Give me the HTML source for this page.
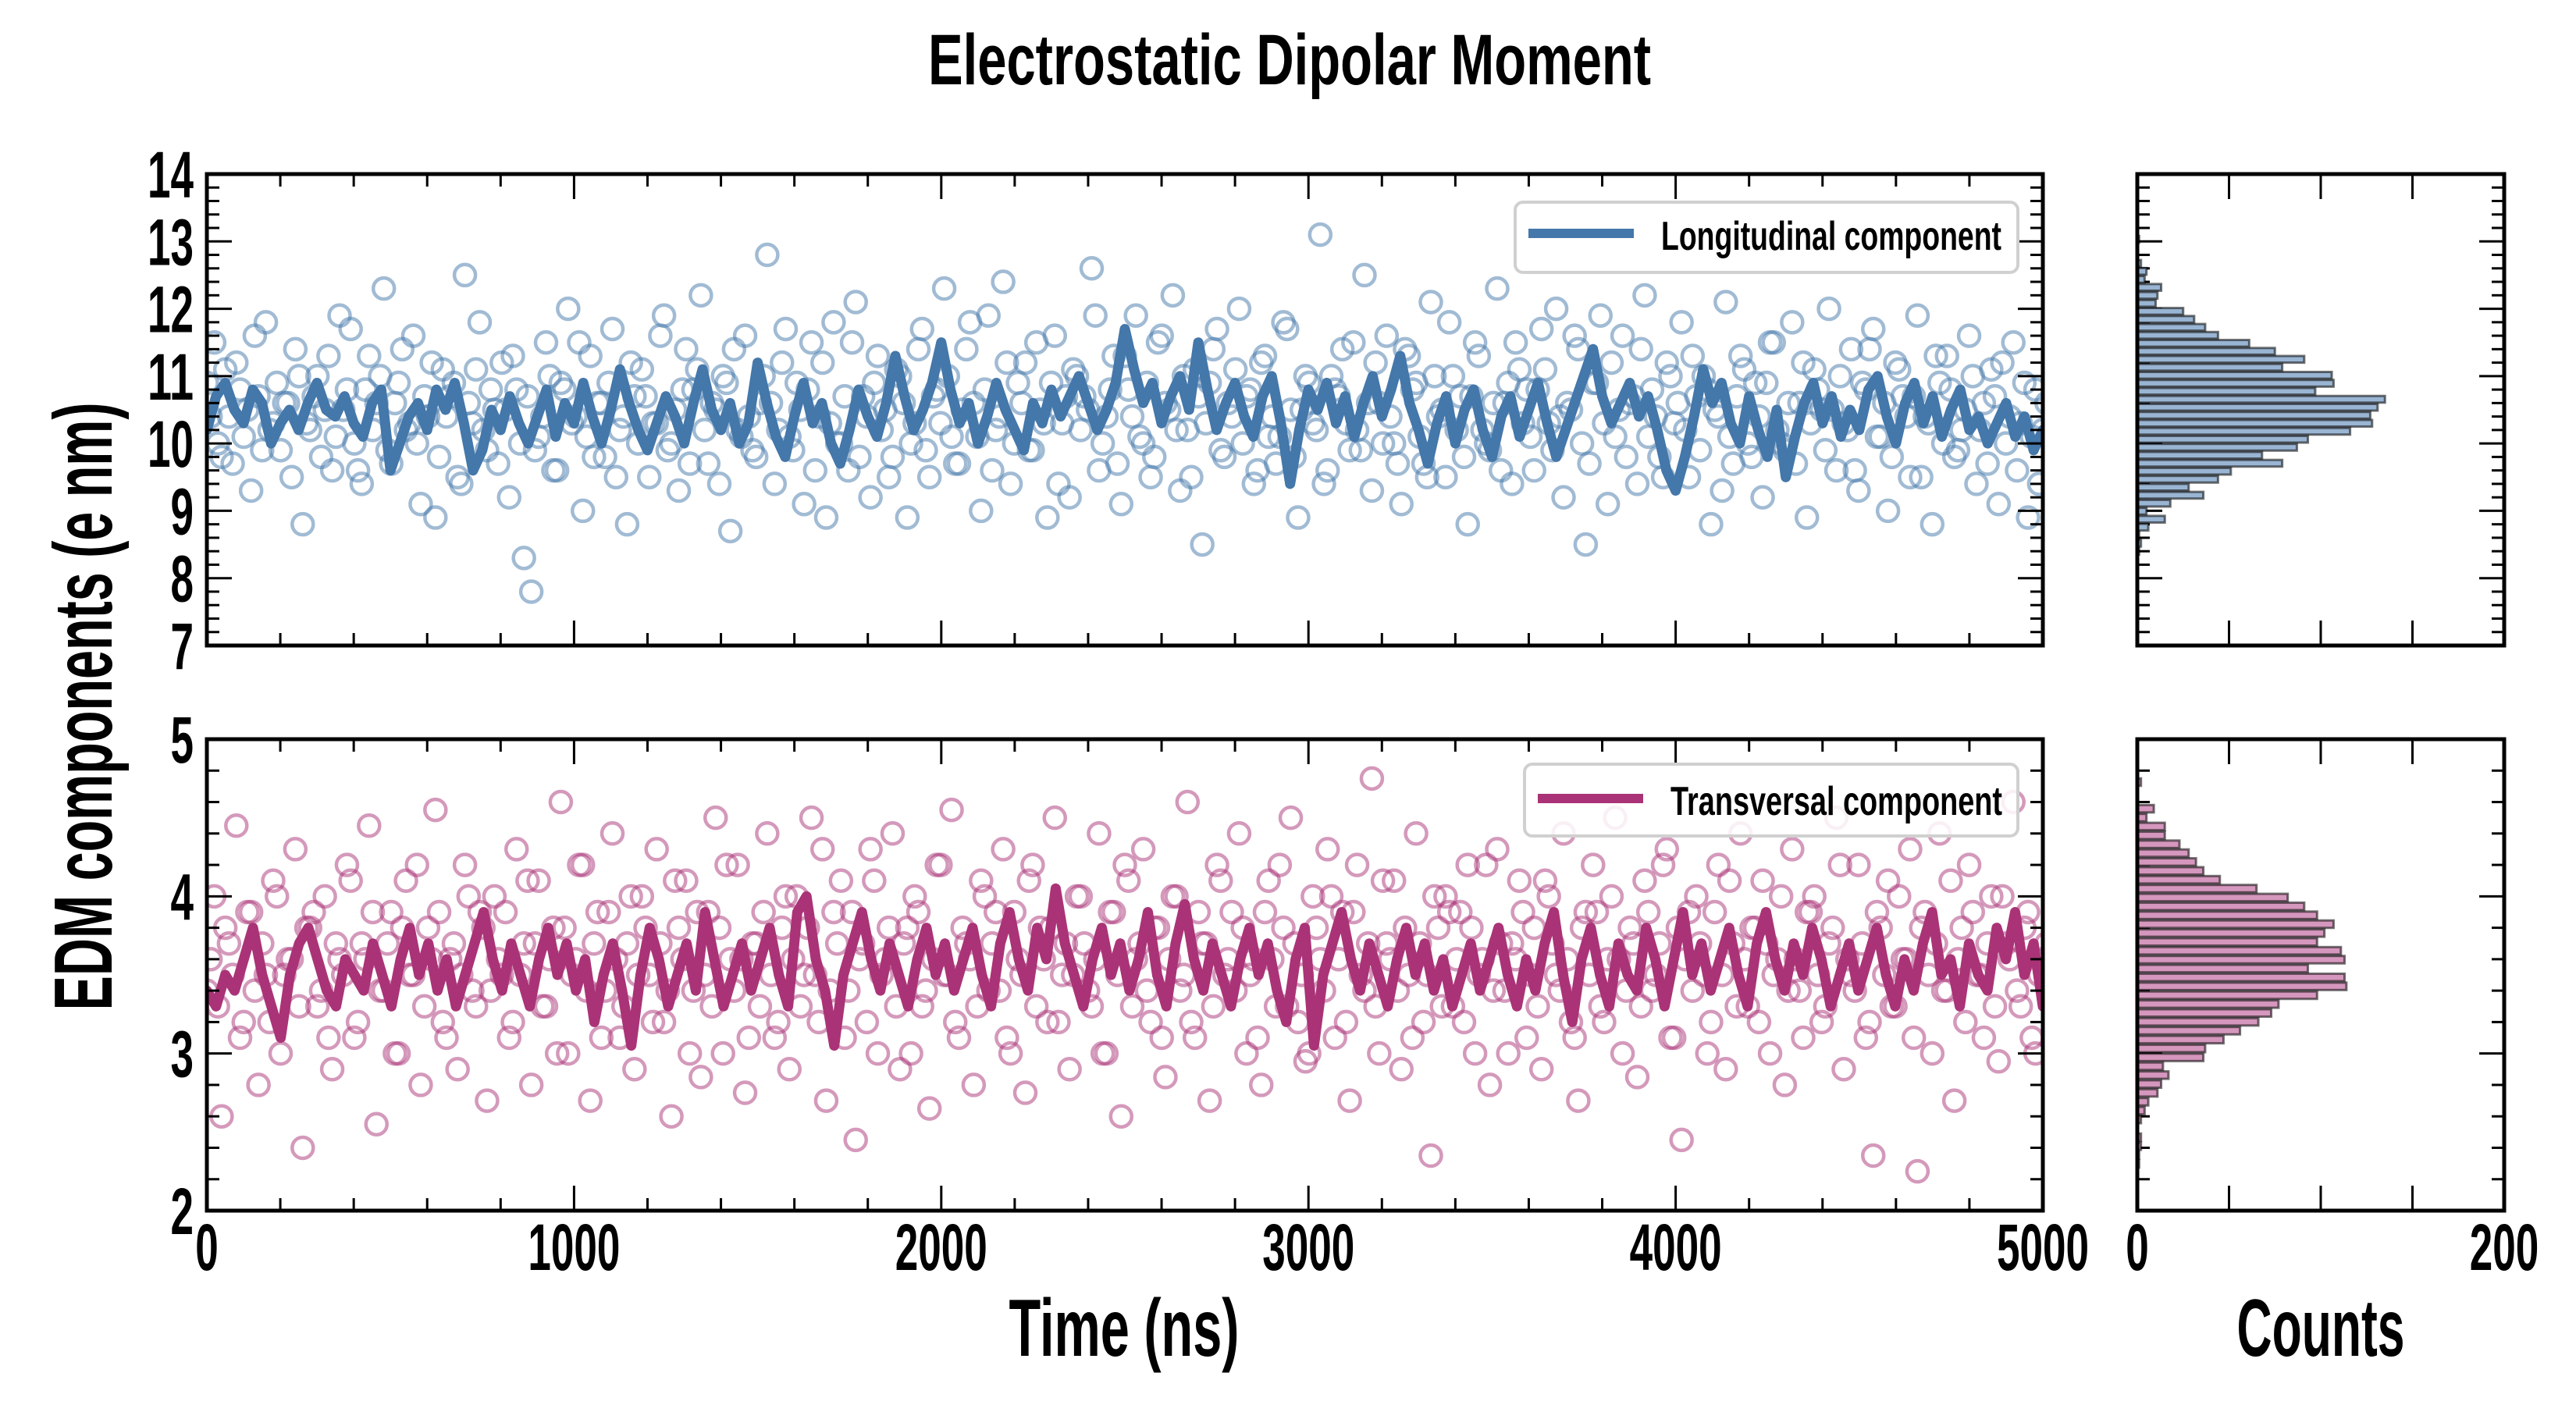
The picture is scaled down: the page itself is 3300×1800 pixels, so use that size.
<!DOCTYPE html>
<html><head><meta charset="utf-8"><style>
html,body{margin:0;padding:0;background:#fff}
svg{display:block}
text{font-family:"Liberation Sans Narrow","Liberation Sans",sans-serif;font-weight:bold;fill:#000}
</style></head><body>
<svg id="chart" width="3300" height="1800" viewBox="0 0 3300 1800" xmlns="http://www.w3.org/2000/svg"></svg>
<script>
// ---- data ----
const lonLine=[10.2,10.7,10.9,10.5,10.3,10.8,10.6,10.0,10.3,10.5,10.2,10.6,10.9,10.5,10.4,10.7,10.3,10.1,10.6,10.8,9.6,
10.0,10.4,10.6,10.2,10.8,10.5,10.9,10.3,9.6,9.9,10.5,10.2,10.7,10.3,10.0,10.4,10.8,10.1,10.6,10.3,
10.9,10.4,10.0,10.5,11.1,10.6,10.2,9.9,10.3,10.7,10.4,10.0,10.6,11.1,10.5,10.2,10.6,10.0,10.3,11.2,
10.6,10.1,9.8,10.4,10.9,10.3,10.6,10.0,9.7,10.2,10.8,10.4,10.1,10.6,11.3,10.7,10.2,10.5,10.9,11.5,
10.8,10.3,10.6,10.0,10.4,10.9,10.5,10.2,9.9,10.6,10.3,10.8,10.4,10.7,11.0,10.6,10.2,10.5,10.9,11.7,
11.1,10.6,10.9,10.3,10.7,11.0,10.5,11.5,10.8,10.2,10.6,10.9,10.4,10.1,10.7,11.0,10.3,9.4,10.2,10.8,
10.5,10.9,10.3,10.7,10.1,10.6,11.0,10.4,10.8,11.3,10.6,10.2,9.7,10.3,10.7,10.0,10.5,10.8,10.2,9.8,
10.4,10.7,10.1,10.5,10.9,10.3,9.8,10.2,10.6,11.0,11.4,10.7,10.3,10.6,10.9,10.4,10.7,10.2,9.6,9.3,
9.8,10.4,11.1,10.6,10.9,10.3,10.0,10.7,10.2,9.8,10.5,9.5,10.1,10.6,10.9,10.3,10.7,10.1,10.5,10.2,
10.8,11.0,10.4,10.0,10.6,10.9,10.3,10.7,10.1,10.5,10.8,10.2,10.4,10.0,10.3,10.6,10.1,10.4,9.9,10.2];
const traLine=[3.4,3.3,3.5,3.4,3.6,3.8,3.5,3.3,3.1,3.5,3.7,3.8,3.6,3.4,3.3,3.6,3.5,3.4,3.7,3.5,3.3,
3.6,3.8,3.5,3.7,3.4,3.6,3.3,3.5,3.7,3.9,3.6,3.4,3.7,3.5,3.3,3.6,3.8,3.5,3.7,
3.4,3.6,3.2,3.5,3.7,3.4,3.05,3.5,3.8,3.6,3.3,3.5,3.7,3.4,3.9,3.6,3.3,3.5,3.7,3.4,
3.6,3.8,3.5,3.3,3.9,4.0,3.6,3.4,3.05,3.5,3.7,3.9,3.6,3.4,3.7,3.5,3.3,3.6,3.8,3.5,
3.7,3.4,3.6,3.8,3.5,3.3,3.7,3.9,3.6,3.4,3.8,3.6,4.05,3.7,3.5,3.3,3.6,3.8,3.5,3.7,
3.4,3.6,3.9,3.5,3.3,3.7,3.95,3.6,3.4,3.7,3.5,3.3,3.6,3.8,3.5,3.7,3.4,3.2,3.6,3.8,
3.05,3.5,3.7,3.9,3.6,3.4,3.7,3.5,3.3,3.6,3.8,3.5,3.7,3.4,3.6,3.3,3.5,3.7,3.4,3.6,
3.8,3.5,3.3,3.6,3.4,3.7,3.9,3.5,3.2,3.6,3.8,3.5,3.3,3.7,3.5,3.4,3.8,3.6,3.3,3.6,
3.9,3.5,3.7,3.4,3.6,3.8,3.5,3.3,3.7,3.9,3.6,3.4,3.7,3.5,3.8,3.6,3.3,3.5,3.7,3.4,
3.6,3.8,3.5,3.3,3.6,3.4,3.7,3.9,3.5,3.6,3.3,3.7,3.5,3.4,3.8,3.6,3.9,3.5,3.7,3.3];
const lonPts=[10.9,11.5,9.8,10.4,11.2,10.1,9.3,10.7,11.8,10.3,9.9,10.6,11.4,8.8,10.2,11.0,10.5,9.6,11.9,10.8,
10.0,9.4,11.3,10.6,12.3,9.7,10.9,10.2,11.6,9.1,10.4,8.9,11.1,10.7,9.5,12.5,10.3,11.8,9.9,10.5,
11.2,9.2,10.8,8.3,7.8,10.1,11.5,9.6,10.9,12.0,10.4,9.0,11.3,10.6,9.8,11.7,10.2,8.8,10.7,11.1,
9.5,10.3,11.9,10.0,9.3,11.4,10.8,12.2,9.7,10.5,11.0,8.7,10.2,11.6,9.9,10.6,12.8,9.4,11.2,10.1,
10.9,9.1,11.5,10.4,8.9,11.8,10.0,9.6,12.1,10.7,9.2,11.3,10.5,9.8,11.0,8.9,10.3,11.7,9.5,10.8,
12.3,10.1,9.7,11.4,10.6,9.0,11.9,10.2,12.4,9.4,10.9,11.2,9.9,10.5,8.9,11.6,10.3,9.2,11.0,10.7,
12.6,9.6,10.4,11.3,9.1,10.8,11.9,10.0,9.5,11.5,10.6,12.2,9.3,10.2,11.1,8.5,10.9,11.7,9.8,10.4,
12.0,10.7,9.4,11.2,10.1,9.7,11.8,10.5,8.9,11.0,10.3,13.1,9.6,10.8,11.4,9.9,10.2,12.5,9.3,10.6,
11.6,10.0,9.1,11.3,10.9,9.7,12.1,10.4,9.5,11.0,10.7,8.8,11.5,10.2,9.9,12.3,10.6,9.4,11.1,10.8,
9.6,11.7,10.3,12.0,9.2,10.5,11.4,8.5,10.9,11.9,9.1,10.1,11.6,10.6,9.4,12.2,10.8,9.8,11.2,10.3,
11.8,9.5,10.7,11.0,8.8,10.4,12.1,9.7,11.3,10.0,10.9,9.2,11.5,10.2,9.9,11.8,10.6,8.9,11.1,10.5,
12.0,9.6,10.3,11.4,9.3,10.8,11.7,10.1,9.0,11.2,10.7,9.5,11.9,10.4,8.8,10.9,11.3,9.8,10.2,11.6,
9.4,10.6,11.1,9.1,10.0,11.5,10.3,8.9,10.8,10.2];
const lonPtsB=[10.4,10.0,11.1,9.7,10.8,10.5,11.6,9.9,10.2,10.9,10.6,9.5,11.0,10.3,10.7,9.8,11.3,10.1,10.5,11.7,
9.6,10.8,10.2,11.0,9.9,10.6,11.4,10.3,10.0,10.7,11.2,9.8,10.4,10.9,9.4,10.6,11.1,10.2,10.8,9.7,
10.5,11.3,10.0,10.7,9.9,10.4,11.0,9.6,10.8,10.3,11.5,10.1,9.8,10.6,10.9,9.5,10.4,11.2,10.0,10.7,
10.3,11.6,9.9,10.5,10.8,9.7,11.1,10.2,10.6,9.4,10.9,11.4,10.1,10.4,9.8,11.0,10.6,10.2,11.7,9.9,
10.5,10.8,9.6,11.2,10.3,10.0,10.7,11.5,9.8,10.4,10.9,10.2,9.5,11.1,10.6,10.0,11.4,9.9,10.7,10.3,
11.0,9.7,10.5,11.8,10.1,10.8,9.6,10.4,11.2,10.0,10.6,9.9,11.5,10.3,10.9,9.4,10.7,11.1,10.2,10.5,
11.9,10.0,10.8,9.7,11.3,10.4,10.1,10.9,9.8,11.6,10.5,10.2,11.0,9.5,10.7,10.3,11.4,9.9,10.6,11.1,
10.0,10.8,9.6,11.3,10.4,10.1,11.7,9.8,10.5,10.9,10.2,9.4,11.0,10.7,10.3,11.5,9.9,10.6,11.2,10.0,
10.4,9.7,11.4,10.8,10.1,9.5,11.0,10.5,11.8,10.2,9.8,10.7,11.3,10.0,10.6,9.6,10.9,11.5,10.3,10.1,
10.8,11.1,9.9,10.4,10.6,11.6,10.0,9.7,10.9,10.3,11.2,10.5,9.8,10.7,11.4,10.1,10.4,9.5,11.0,10.6,
10.2,11.3,9.9,10.8,10.5,9.3,10.1,10.7,11.1,9.8,10.4,10.9,11.5,10.0,10.6,9.7,11.2,10.3,10.8,9.9,
10.5,11.0,10.2,9.6,10.9,11.4,10.1,10.6,9.8,11.1,10.4,10.7,9.5,10.3,11.3,10.0,10.8,9.9,10.5,11.0,
10.2,9.7,10.7,11.2,10.4,9.6,10.9,10.1,9.4,10.6];
const traPts=[3.4,4.0,2.6,3.7,4.45,3.2,3.9,2.8,3.5,4.1,3.0,3.6,4.3,2.4,3.8,3.3,4.0,2.9,3.6,4.2,
3.1,3.7,4.45,2.55,3.4,3.9,3.0,4.1,3.5,2.8,3.8,4.55,3.2,3.6,2.9,4.2,3.4,3.9,2.7,4.0,
3.5,3.1,4.3,3.7,2.8,4.1,3.3,3.8,4.6,3.0,3.6,4.2,2.7,3.9,3.4,4.4,3.1,3.7,2.9,4.0,
3.5,4.3,3.2,2.6,3.8,4.1,3.4,2.85,3.9,4.5,3.0,3.6,4.2,2.75,3.7,3.3,4.4,3.1,3.8,2.9,
4.0,3.5,4.5,3.2,2.7,3.9,4.1,3.4,2.45,3.7,4.3,3.0,3.6,4.4,2.9,3.8,4.0,3.3,2.65,4.2,
3.5,4.55,3.1,3.7,2.8,4.1,3.4,3.9,4.3,3.0,3.6,2.75,4.2,3.8,3.2,4.5,3.5,2.9,4.0,3.7,
3.3,4.4,3.0,3.9,2.6,4.1,3.6,4.3,3.2,3.8,2.85,4.0,3.4,4.6,3.1,3.7,2.7,4.2,3.5,3.9,
4.4,3.0,3.6,2.8,4.1,3.3,3.8,4.5,3.2,2.95,4.0,3.6,4.3,3.1,3.9,2.7,4.2,3.4,4.75,3.0,
3.7,4.1,2.9,3.5,4.4,3.2,2.35,3.8,4.0,3.3,3.9,4.2,3.0,3.6,2.8,4.3,3.4,3.7,4.1,3.1,
3.8,2.9,4.0,3.5,4.4,3.2,2.7,3.9,4.2,3.3,3.6,4.5,3.0,3.8,2.85,4.1,3.4,3.7,4.3,3.1,
2.45,3.9,4.0,3.5,3.2,4.2,2.9,3.7,4.4,3.3,3.8,4.1,3.0,3.6,2.8,4.3,3.4,3.9,4.0,3.2,
3.7,4.5,2.9,3.5,4.2,3.1,2.35,3.8,4.1,3.3,3.6,4.3,2.25,3.9,3.0,4.4,3.4,2.7,3.8,4.2,
3.5,3.1,4.0,2.95,3.7,4.6,3.3,3.9,3.0,3.6];
const traPtsB=[3.6,3.3,3.8,3.5,3.1,3.9,3.4,3.7,3.2,4.0,3.5,3.6,3.3,3.8,3.9,3.4,3.1,3.7,3.5,4.1,
3.2,3.6,3.9,3.4,3.7,3.0,3.8,3.5,4.2,3.3,3.6,3.9,3.1,3.7,3.5,4.0,3.3,3.8,3.4,3.6,
3.9,3.2,3.5,4.1,3.7,3.3,3.6,3.0,3.8,3.5,4.2,3.4,3.7,3.1,3.9,3.6,3.3,4.0,3.5,3.8,
3.2,3.7,3.4,4.1,3.6,3.0,3.9,3.5,3.3,3.8,4.2,3.4,3.6,3.1,3.7,3.9,3.5,3.2,4.0,3.6,
3.3,3.8,3.5,4.3,3.4,3.7,3.1,3.9,3.6,3.2,4.1,3.5,3.8,3.3,3.7,3.0,3.9,3.4,3.6,4.2,
3.5,3.2,3.8,3.6,3.3,4.0,3.7,3.4,3.1,3.9,3.5,4.1,3.3,3.6,3.8,3.2,3.7,3.5,4.0,3.4,
3.6,3.0,3.9,3.5,4.2,3.3,3.7,3.4,3.8,3.1,3.6,4.0,3.5,3.2,3.9,3.7,3.3,4.1,3.6,3.4,
3.8,3.5,3.1,3.9,3.6,4.2,3.3,3.7,3.5,3.0,3.8,3.4,4.0,3.6,3.2,3.9,3.5,3.7,3.3,4.1,
3.6,3.4,3.8,3.1,3.7,3.5,4.0,3.3,3.9,3.6,3.2,3.8,3.5,4.2,3.4,3.7,3.0,3.6,3.9,3.5,
3.3,4.1,3.7,3.4,3.6,3.1,3.8,3.5,3.9,3.2,4.0,3.6,3.4,3.7,3.3,3.9,3.5,4.2,3.1,3.8,
3.6,3.4,3.7,3.0,3.9,3.5,4.1,3.3,3.6,3.8,3.2,3.7,3.5,4.0,3.4,3.6,3.1,3.9,3.5,3.3,
3.8,4.2,3.6,3.4,3.7,3.2,3.9,3.5,3.3,4.0,3.6,3.1,3.8,3.5,3.7,3.4,4.1,3.6,3.2,3.9,
3.5,3.7,3.3,4.0,3.6,3.4,3.8,3.1,3.5,3.7];
const lonHistTop=13.03, lonHistBin=0.1187;
const lonHistCounts=[1,0,0,2,5,4,13,11,10,25,31,37,44,61,75,91,79,106,107,97,135,131,127,128,116,93,87,68,79,51,44,28,36,18,5,15,6,1,2,1];
const traHistTop=4.727, traHistBin=0.0565;
const traHistCounts=[2,0,0,9,5,15,15,23,28,32,36,45,65,82,91,98,107,102,98,111,113,93,113,114,98,77,73,66,56,47,37,36,14,17,13,11,6,4,2,0,2,2,1,1];
const timeTicks=[0,1000,2000,3000,4000,5000];
const lonTicks=[7,8,9,10,11,12,13,14];
const traTicks=[2,3,4,5];
const countTicks=[0,200];

// ---- layout ----
const NS="http://www.w3.org/2000/svg";
const svg=document.getElementById('chart');
const X0=265,X1=2617,H0=2738,H1=3208;
const P1={top:223,bot:827,min:7,max:14};
const P2={top:947,bot:1551,min:2,max:5};
function el(tag,attrs,parent){const e=document.createElementNS(NS,tag);for(const k in attrs)e.setAttribute(k,attrs[k]);(parent||svg).appendChild(e);return e;}
const xT=t=>X0+(t/5000)*(X1-X0);
const xC=c=>H0+(c/200)*(H1-H0);
const yP=(P,v)=>P.bot-(v-P.min)/(P.max-P.min)*(P.bot-P.top);
function txt(s,x,y,size,anchor,len,parent){const t=el('text',{x:x,y:y,'font-size':size,'text-anchor':anchor||'start'},parent);if(len){t.setAttribute('textLength',len);t.setAttribute('lengthAdjust','spacingAndGlyphs');}t.textContent=s;return t;}

const title=txt('Electrostatic Dipolar Moment',1652,108,92,'middle',926);



function panel(P,lineData,ptsData,ptsDataB,color,name,histTop,histBin,histCounts,fill,yTicks,legendText,legY,legBox){
  const g=el('g',{});
  
  
  const clip=el('clipPath',{id:'clip-'+name},g);
  el('rect',{x:X0,y:P.top,width:X1-X0,height:P.bot-P.top},clip);
  const data=el('g',{'clip-path':'url(#clip-'+name+')'},g);
  const sg=el('g',{fill:'none',stroke:color,'stroke-width':4.5,'stroke-opacity':0.5},data);
  
  
  const step=5000/(ptsData.length-1);
  ptsData.forEach((v,i)=>{
    const c=el('circle',{cx:xT(i*step),cy:yP(P,v),r:13.5},sg);
    
    
  });
  ptsDataB.forEach((v,i)=>{
    const c=el('circle',{cx:xT((i+0.5)*step),cy:yP(P,v),r:13.5},sg);
    
    
  });
  const d=lineData.map((v,i)=>(i?'L':'M')+xT(i*5000/(lineData.length-1)).toFixed(1)+' '+yP(P,v).toFixed(1)).join(' ');
  const ln=el('path',{d:d,fill:'none',stroke:color,'stroke-width':13,'stroke-linejoin':'round','stroke-linecap':'round'},data);
  
  
  const tk=el('g',{stroke:'#000','stroke-width':3},g);
  for(let t=0;t<=5000;t+=200){const L=(t%1000===0)?32:16;
    el('line',{x1:xT(t),x2:xT(t),y1:P.bot,y2:P.bot-L},tk);
    el('line',{x1:xT(t),x2:xT(t),y1:P.top,y2:P.top+L},tk);}
  for(let v=P.min;v<=P.max+1e-6;v+=0.2){const major=Math.abs(v-Math.round(v))<1e-6;const L=major?32:16;const y=yP(P,v);
    el('line',{x1:X0,x2:X0+L,y1:y,y2:y},tk);el('line',{x1:X1,x2:X1-L,y1:y,y2:y},tk);
    el('line',{x1:H0,x2:H0+L,y1:y,y2:y},tk);el('line',{x1:H1,x2:H1-L,y1:y,y2:y},tk);}
  for(let c=0;c<=200;c+=50){
    el('line',{x1:xC(c),x2:xC(c),y1:P.bot,y2:P.bot-32},tk);
    el('line',{x1:xC(c),x2:xC(c),y1:P.top,y2:P.top+32},tk);}
  const fr=el('rect',{x:X0,y:P.top,width:X1-X0,height:P.bot-P.top,fill:'none',stroke:'#000','stroke-width':5},g);
  
  
  yTicks.forEach(v=>{const t=txt(String(v),248,yP(P,v)+30,84,'end',String(v).length*29.5,g);
    
    });
  const hg=el('g',{},g);
  
  
  const bh=histBin/(P.max-P.min)*(P.bot-P.top);
  histCounts.forEach((c,i)=>{
    const v=histTop-i*histBin;const yc=yP(P,v);
    const b=el('rect',{x:H0,y:yc-bh*0.42,width:Math.max(1,xC(c)-H0),height:bh*0.84,fill:fill,stroke:'#000','stroke-opacity':0.55,'stroke-width':3},hg);
    
    
  });
  const hf=el('rect',{x:H0,y:P.top,width:H1-H0,height:P.bot-P.top,fill:'none',stroke:'#000','stroke-width':5},g);
  
  
  const lg=el('g',{},g);
  
  
  el('rect',{x:legBox[0],y:legBox[1],width:legBox[2],height:legBox[3],rx:10,fill:'#fff','fill-opacity':0.85,stroke:'#d0d0d0','stroke-width':4},lg);
  el('line',{x1:legBox[0]+17,x2:legBox[0]+152,y1:legY-21,y2:legY-21,stroke:color,'stroke-width':12},lg);
  txt(legendText,legBox[0]+187,legY,52,'start',legendText.length>21?436:425,lg);
}
panel(P1,lonLine,lonPts,lonPtsB,'#4477aa','longitudinal',lonHistTop,lonHistBin,lonHistCounts,'#9ab5d3',lonTicks,'Longitudinal component',320,[1941,259,644,90]);
panel(P2,traLine,traPts,traPtsB,'#aa3377','transversal',traHistTop,traHistBin,traHistCounts,'#d597bd',traTicks,'Transversal component',1044,[1953,979,632,92]);

timeTicks.forEach(t=>{const s=String(t);const e=txt(s,xT(t),1627,84,'middle',s.length*29.5);
  
  });
countTicks.forEach(c=>{const s=String(c);const e=txt(s,xC(c),1627,84,'middle',s.length*29.5);
  
  });
const xl=txt('Time (ns)',1440,1737,104,'middle',295);


const cl=txt('Counts',2973,1737,104,'middle',215);


const yl=txt('EDM components (e nm)',0,0,106,'middle',779);
yl.setAttribute('transform','translate(143,905) rotate(-90)');


</script>
</body></html>
